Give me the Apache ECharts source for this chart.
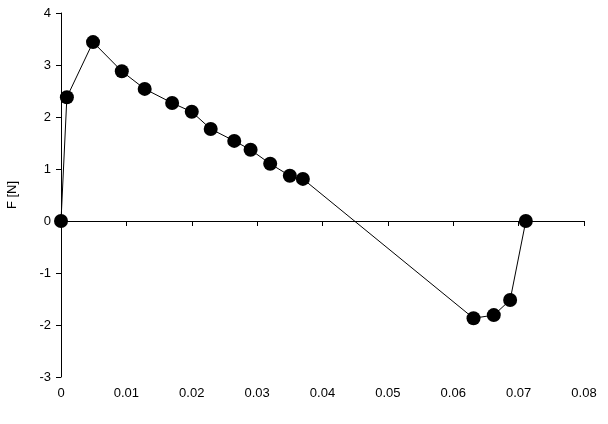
<!DOCTYPE html>
<html><head><meta charset="utf-8">
<script src="https://cdn.jsdelivr.net/npm/echarts@6/dist/echarts.min.js"></script>
<style>html,body{margin:0;background:#fff}#c{width:608px;height:424px}</style></head>
<body><div id="c"></div>
<script>
const wValues=[0,0.0009,0.0049,0.0093,0.0128,0.017,0.020,0.0229,0.0265,0.029,0.032,0.035,0.037,0.0631,0.0662,0.0687,0.0711];
const fValues=[0,2.38,3.44,2.88,2.54,2.27,2.10,1.77,1.54,1.37,1.10,0.87,0.81,-1.87,-1.81,-1.52,0];
const data=wValues.map((w,i)=>[w,fValues[i]]);
const font={fontFamily:'Liberation Sans',fontSize:13,color:'#000'};
const chart=echarts.init(document.getElementById('c'));
chart.setOption({
 animation:false,
 grid:{left:61,right:24,top:13,bottom:47,containLabel:false,outerBoundsMode:'none'},
 xAxis:{type:'value',min:0,max:0.08,interval:0.01,name:'w [m]',nameLocation:'middle',nameGap:182,nameTextStyle:font,
  axisLine:{onZero:true,lineStyle:{color:'#000'}},axisTick:{show:true,inside:false,length:5,lineStyle:{color:'#000'}},
  axisLabel:Object.assign({margin:10,formatter:v=>String(+v.toFixed(2))},font),splitLine:{show:false}},
 yAxis:{type:'value',min:-3,max:4,interval:1,name:'F [N]',nameLocation:'middle',nameGap:42,nameRotate:90,nameTextStyle:font,
  axisLine:{show:true,onZero:false,lineStyle:{color:'#000'}},axisTick:{show:true,length:5,lineStyle:{color:'#000'}},
  axisLabel:Object.assign({margin:10},font),splitLine:{show:false}},
 series:[{type:'line',data:data,symbol:'circle',symbolSize:14,
  lineStyle:{color:'#000',width:1},itemStyle:{color:'#000'}}]
});
</script></body></html>
